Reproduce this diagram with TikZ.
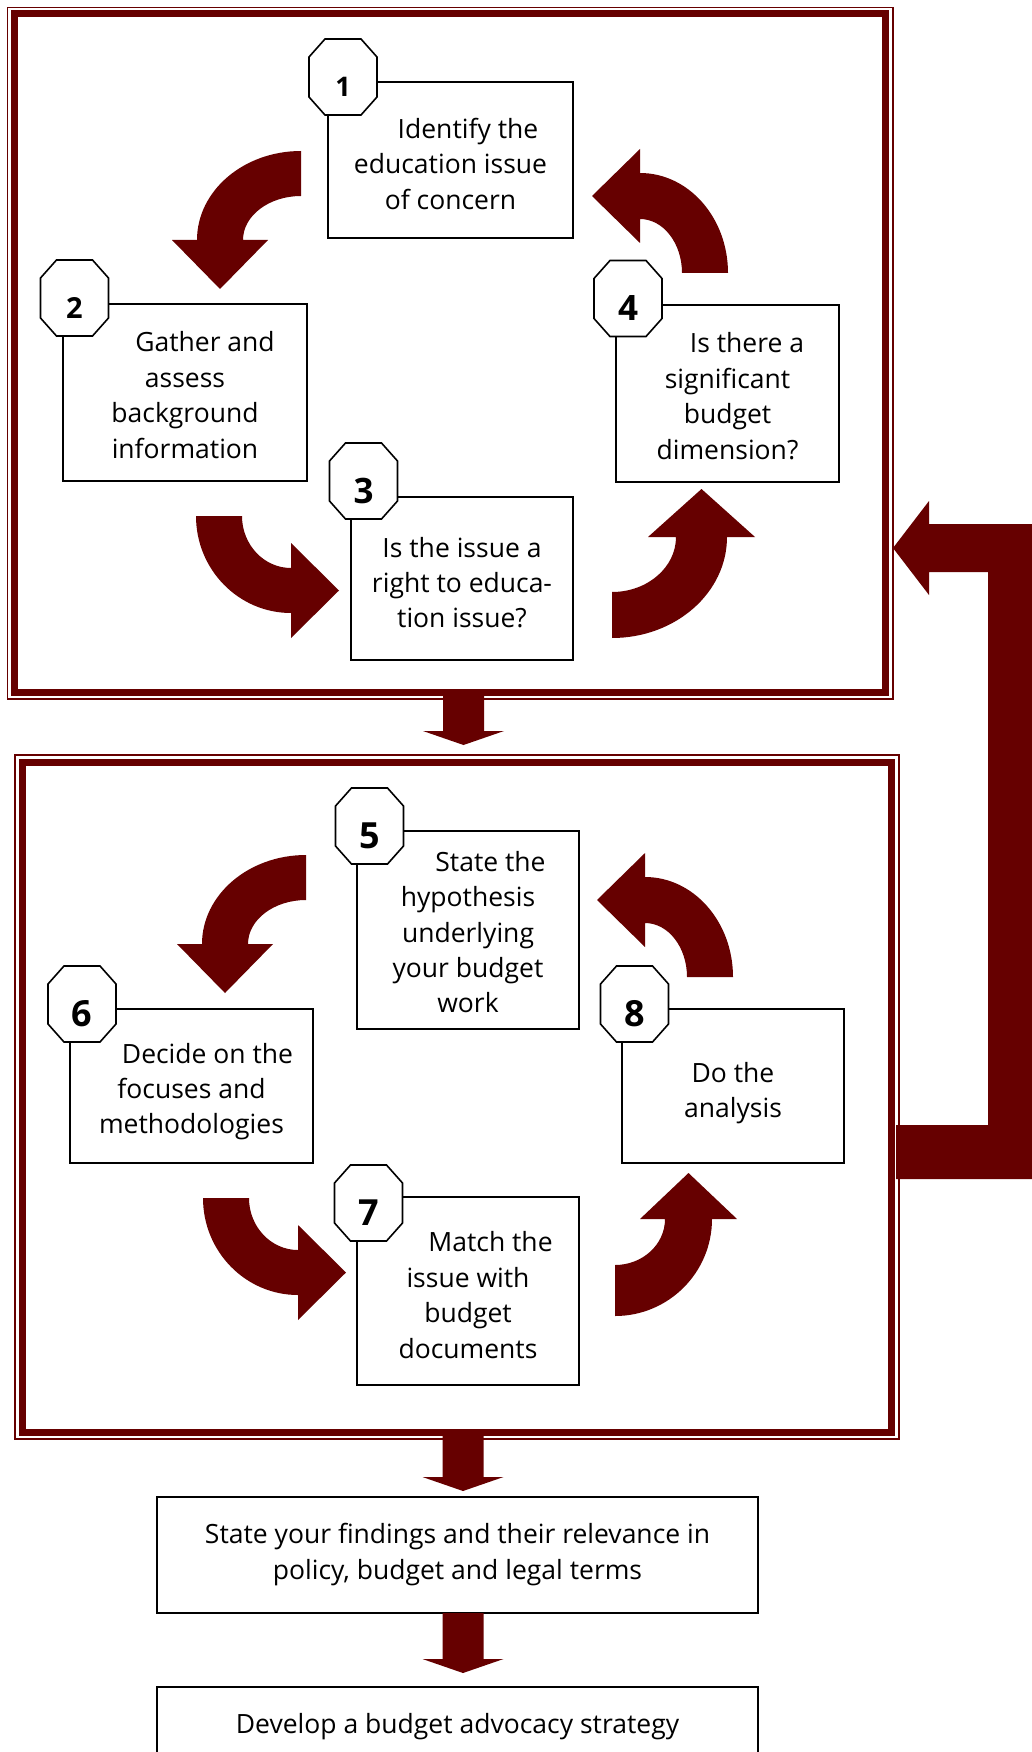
\documentclass[tikz,border=0pt]{standalone}
\usepackage{fontspec}
\setmainfont{Open Sans}
\usetikzlibrary{calc}
\definecolor{maroon}{HTML}{660000}

% curved quarter-ellipse block arrow
% #1 centre, #2 unit vector to tail, #3 unit vector to head end,
% #4 outer radius along tail, #5 outer radius along head, #6 inner radius tail, #7 inner radius head,
% #8 head overhang, #9 head length
\newcommand{\qarrow}[9]{%
  \coordinate (qc) at (#1);
  \fill[arrowfill] ($(qc)+#4*(#2)$)
    .. controls ($(qc)+#4*(#2)+{0.5523*#5}*(#3)$) and ($(qc)+#5*(#3)+{0.5523*#4}*(#2)$) .. ($(qc)+#5*(#3)$)
    -- ($(qc)+{#5+#8}*(#3)$)
    -- ($(qc)+{(#5+#7)/2}*(#3)-#9*(#2)$)
    -- ($(qc)+{#7-#8}*(#3)$)
    -- ($(qc)+#7*(#3)$)
    .. controls ($(qc)+#7*(#3)+{0.5523*#6}*(#2)$) and ($(qc)+#6*(#2)+{0.5523*#7}*(#3)$) .. ($(qc)+#6*(#2)$)
    -- cycle;
}
% octagon with number: #1 name, #2 centre, #3 number, #4 font size
\newcommand{\octnum}[4]{%
  \draw[oct, shift={(#2)}] (-34,-20) -- ++(16,-18) -- ++(36,0) -- ++(16,18) -- ++(0,40)
     -- ++(-16,18) -- ++(-36,0) -- ++(-16,-18) -- cycle;
  \path[shift={(#2)}] node[numnode, font=\fontsize{#4}{#4}\selectfont\bfseries] (#1) at (0,10) {#3};
}
% straight block arrow pointing down: #1 start, #2 tip
\newcommand{\downblock}[2]{%
  \fill[arrowfill] ($(#1)+(-20.5,0)$) -- ($(#2)+(-20.5,-14)$) -- ($(#2)+(-40.5,-14)$) -- (#2)
     -- ($(#2)+(40.5,-14)$) -- ($(#2)+(20.5,-14)$) -- ($(#1)+(20.5,0)$) -- cycle;
}
% struts to place text vertically
\newcommand{\tstrut}[1]{\rule{0pt}{#1pt}}
\newcommand{\bstrut}[1]{\rule[-#1pt]{0pt}{0pt}}

\begin{document}
\begin{tikzpicture}[x=1pt,y=-1pt,
  boxtext/.style={font=\fontsize{26.5}{35.4}\selectfont, align=center},
  stepbox/.style={draw=black, line width=1.6pt, fill=white, inner sep=0pt, boxtext},
  numnode/.style={inner sep=0pt},
  oct/.style={draw=black, line width=1.6pt, fill=white},
  frameband/.style={draw=maroon, line width=7pt, inner sep=0pt, outer sep=0pt},
  frameline/.style={draw=maroon, line width=1.6pt},
  arrowfill/.style={fill=maroon}]

\fill[white] (0,0) rectangle (1032,1752);
\useasboundingbox (0,0) rectangle (1032,1752);

% frames
\node[frameband, minimum width=871.3pt, minimum height=679pt] (topframe) at (450.15,353) {};
\draw[frameline] ([shift={(-7,-6)}]topframe.north west) rectangle ([shift={(7.2,6.5)}]topframe.south east);
\node[frameband, minimum width=869pt, minimum height=670pt] (botframe) at (456.5,1097) {};
\draw[frameline] ([shift={(-7,-7)}]botframe.north west) rectangle ([shift={(7.7,7)}]botframe.south east);

% top cycle
\node[stepbox, minimum width=245pt, minimum height=156pt] (s1) at (450.5,160) {\tstrut{35.5}\hspace*{35pt}Identify the\\education issue\\of concern\bstrut{8}};
\node[stepbox, minimum width=244pt, minimum height=177pt] (s2) at (185,392.5) {\tstrut{33}\hspace*{40pt}Gather and\\assess\\background\\information\bstrut{8}};
\node[stepbox, minimum width=222pt, minimum height=163pt] (s3) at (462,578.5) {\tstrut{36}Is the issue a\\right to educa-\\tion issue?\bstrut{8}};
\node[stepbox, minimum width=223pt, minimum height=177pt] (s4) at (727.5,393.5) {\tstrut{33}\hspace*{39pt}Is there a\\significant\\budget\\dimension?\bstrut{8}};
\octnum{n1}{343,77}{1}{27}
\octnum{n2}{74.5,298}{2}{29}
\octnum{n3}{363.5,481}{3}{35}
\octnum{n4}{628,298.5}{4}{35}

\qarrow{301,240}{0,-1}{-1,0}{89}{104}{44}{58}{25}{49}
\qarrow{291,516}{-1,0}{0,1}{95}{97}{49}{52}{25}{48}
\qarrow{612,537}{0,1}{1,0}{101}{115}{55}{64}{28}{48}
\qarrow{640,273}{1,0}{0,-1}{88}{100}{42}{54}{24}{48}

% bottom cycle
\node[stepbox, minimum width=222pt, minimum height=198pt] (s5) at (468,930) {\tstrut{32}\hspace*{45pt}State the\\hypothesis\\underlying\\your budget\\work\bstrut{8}};
\node[stepbox, minimum width=243pt, minimum height=154pt] (s6) at (191.5,1086) {\tstrut{33}\hspace*{32pt}Decide on the\\focuses and\\methodologies\bstrut{8}};
\node[stepbox, minimum width=222pt, minimum height=188pt] (s7) at (468,1291) {\tstrut{36}\hspace*{45pt}Match the\\issue with\\budget\\documents\bstrut{8}};
\node[stepbox, minimum width=222pt, minimum height=154pt] (s8) at (733,1086) {\tstrut{36}Do the\\analysis\bstrut{8}};
\octnum{n5}{369.5,826}{5}{36}
\octnum{n6}{82,1004}{6}{36}
\octnum{n7}{368.5,1203}{7}{36}
\octnum{n8}{634.5,1004}{8}{36}

\qarrow{306,944}{0,-1}{-1,0}{89}{104}{44}{58}{25}{49}
\qarrow{298,1198}{-1,0}{0,1}{95}{97}{49}{52}{25}{48}
\qarrow{615,1219}{0,1}{1,0}{97}{97}{46}{50}{25}{46}
\qarrow{645,977}{1,0}{0,-1}{88}{100}{42}{54}{24}{48}

% final steps
\node[stepbox, minimum width=601pt, minimum height=116pt] (s9) at (457.5,1555) {\tstrut{30}State your findings and their relevance in\\policy, budget and legal terms\bstrut{17}};
\node[stepbox, minimum width=601pt, minimum height=66pt] (s10) at (457.5,1720) {\tstrut{34}Develop a budget advocacy strategy\bstrut{8}};

% straight block arrows
\coordinate (d1s) at (463.5,695);  \coordinate (d1e) at (463.5,745);
\coordinate (d2s) at (463,1434);   \coordinate (d2e) at (463,1491);
\coordinate (d3s) at (463,1613);   \coordinate (d3e) at (463,1673);
\downblock{d1s}{d1e}
\downblock{d2s}{d2e}
\downblock{d3s}{d3e}

% feedback arrow from bottom frame to top frame
\coordinate (fbs) at (896,1152);
\coordinate (fbe) at (893,548);
\fill[arrowfill] ($(fbs)+(0,-27)$) -- (988,1125) -- (988,572) -- (929,572) -- (929,595)
   -- (fbe) -- (929,501) -- (929,524) -- (1032,524) -- (1032,1179) -- ($(fbs)+(0,27)$) -- cycle;
\end{tikzpicture}
\end{document}
